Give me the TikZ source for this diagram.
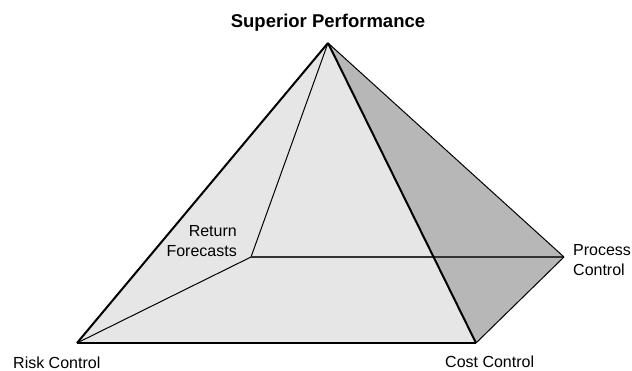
\documentclass[tikz,border=0pt]{standalone}
\usepackage{fontspec}
\setmainfont{Liberation Sans}
\definecolor{facelight}{HTML}{E6E6E6}
\definecolor{facedark}{HTML}{B7B7B7}
\definecolor{edgegrey}{HTML}{333333}
\begin{document}
\begin{tikzpicture}[x=1pt,y=-1pt,
  lbl/.style={inner sep=0pt,font=\fontsize{16}{20}\selectfont},
  thickedge/.style={line width=2pt,line join=miter},
  thinedge/.style={line width=1pt},
  backedge/.style={line width=1.3pt,draw=edgegrey}]
\useasboundingbox (0,0) rectangle (632,370);
\coordinate (A) at (328,43);
\coordinate (R) at (77,343);
\coordinate (C) at (476,343);
\coordinate (P) at (564,257);
\coordinate (F) at (251,257);
\fill[facelight] (R) -- (A) -- (C) -- cycle;
\fill[facedark] (A) -- (P) -- (C) -- cycle;
\draw[thinedge] (A) -- (F);
\draw[thinedge] (F) -- (R);
\draw[backedge] (F) -- (P);
\draw[thinedge] (A) -- (P);
\draw[thinedge] (P) -- (C);
\draw[thickedge] (R) -- (A);
\draw[thickedge] (A) -- (C);
\draw[thickedge] (R) -- (C);
\node[inner sep=0pt,anchor=base,font=\fontsize{18.5}{22}\selectfont\bfseries] (sup) at (328,27) {Superior Performance};
\node[lbl,anchor=base west] (risk) at (13,368) {Risk Control};
\node[lbl,anchor=base west] (cost) at (445,367) {Cost Control};
\node[lbl,anchor=base east,align=right] (ret) at (237,256) {Return\\Forecasts};
\node[lbl,anchor=base west,align=left] (proc) at (573,275) {Process\\Control};
\end{tikzpicture}
\end{document}
